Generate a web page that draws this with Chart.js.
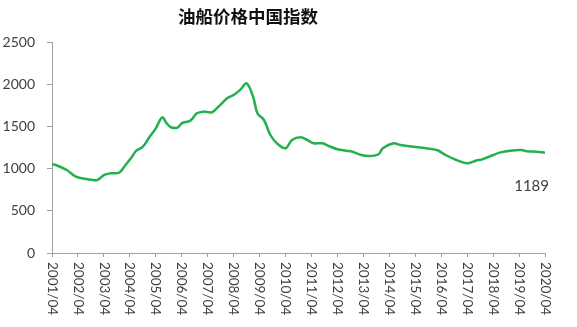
<!DOCTYPE html>
<html>
<head>
<meta charset="utf-8">
<script src="https://cdn.jsdelivr.net/npm/chart.js@4/dist/chart.umd.min.js"></script>
<style>
  html, body { margin: 0; padding: 0; background: #fff; }
  canvas { display: block; }
</style>
</head>
<body>
<canvas id="tanker-chart" width="577" height="327"></canvas>
<script>
const chartTitle = '油船价格中国指数'
const yearLabels = ['2001/04', '2002/04', '2003/04', '2004/04', '2005/04', '2006/04', '2007/04',
  '2008/04', '2009/04', '2010/04', '2011/04', '2012/04', '2013/04', '2014/04', '2015/04',
  '2016/04', '2017/04', '2018/04', '2019/04', '2020/04']
// months since 2001/04
const months = [0, 2, 7, 11, 16, 21, 24, 27, 31, 34, 37, 39, 42, 45, 48, 51, 53, 55, 58, 60, 64,
  67, 70, 74, 77, 81, 84, 87, 90, 93, 95, 98, 101, 104, 108, 111, 115, 118, 121, 125, 128,
  132, 136, 139, 143, 147, 151, 153, 158, 161, 167, 173, 178, 182, 187, 192, 196, 199, 204,
  207, 212, 217, 220, 224, 228]
const indexValues = [1050, 1040, 980, 905, 877, 865, 924, 944, 951, 1043, 1141, 1212, 1260,
  1371, 1477, 1608, 1537, 1490, 1485, 1537, 1568, 1655, 1675, 1667, 1734, 1833, 1872, 1932,
  2011, 1852, 1655, 1576, 1398, 1300, 1241, 1339, 1371, 1339, 1300, 1300, 1268, 1229, 1212,
  1200, 1161, 1149, 1170, 1241, 1300, 1280, 1260, 1241, 1220, 1161, 1102, 1063, 1094, 1110,
  1161, 1189, 1212, 1220, 1204, 1200, 1189]
const lastLabel = '1189'

const axisColor = '#a0a0a0'
const textColor = '#404040'
const font = 'Lato, "Open Sans", sans-serif'

const extraText = {
  id: 'extraText',
  afterDraw(chart) {
    const ctx = chart.ctx
    const xs = chart.scales.x
    const ys = chart.scales.y
    ctx.save()
    ctx.fillStyle = '#111'
    ctx.font = 'bold 17.5px "Noto Sans CJK SC", sans-serif'
    ctx.textAlign = 'center'
    ctx.textBaseline = 'middle'
    ctx.fillText(chartTitle, 248, 16)

    ctx.fillStyle = textColor
    ctx.font = '13.5px ' + font
    ctx.textAlign = 'left'
    yearLabels.forEach((label, i) => {
      const x = xs.getPixelForValue(i * 12)
      ctx.save()
      ctx.translate(x, ys.bottom + 9)
      ctx.rotate(Math.PI / 2)
      ctx.fillText(label, 0, 0)
      ctx.restore()
    })

    const lastX = xs.getPixelForValue(months[months.length - 1])
    const lastY = ys.getPixelForValue(indexValues[indexValues.length - 1])
    ctx.font = '15px ' + font
    ctx.textAlign = 'right'
    ctx.fillText(lastLabel, lastX + 4, lastY + 34)
    ctx.restore()
  }
}

const points = months.map((m, i) => ({ x: m, y: indexValues[i] }))

new Chart(document.getElementById('tanker-chart').getContext('2d'), {
  type: 'line',
  data: {
    datasets: [{
      data: points,
      borderColor: '#22b14c',
      borderWidth: 2.5,
      pointRadius: 0,
      tension: 0.35,
      fill: false
    }]
  },
  options: {
    responsive: false,
    animation: false,
    layout: { padding: { top: 42, right: 32, bottom: 0, left: 0 } },
    plugins: { legend: { display: false }, title: { display: false }, tooltip: { enabled: false } },
    scales: {
      x: {
        type: 'linear',
        min: 0,
        max: 228,
        ticks: { display: false, stepSize: 12 },
        grid: { drawOnChartArea: false, color: axisColor, tickLength: 4 },
        border: { color: axisColor },
        afterFit(scale) { scale.height = 74 }
      },
      y: {
        min: 0,
        max: 2500,
        ticks: {
          stepSize: 500,
          color: textColor,
          font: { size: 14, family: font },
          padding: 12,
          callback: v => String(v)
        },
        grid: { drawOnChartArea: false, color: axisColor, tickLength: 5 },
        border: { color: axisColor },
        afterFit(scale) { scale.width = 52 }
      }
    }
  },
  plugins: [extraText]
})
</script>
</body>
</html>
